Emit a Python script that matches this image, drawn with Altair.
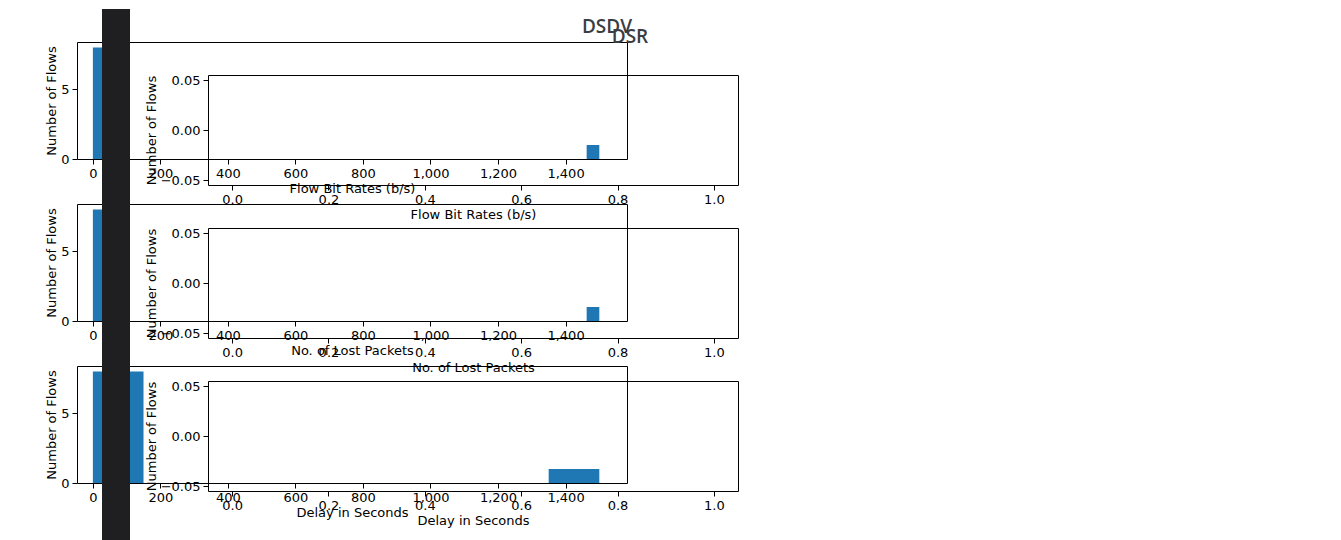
import pandas as pd
import altair as alt

# histogram bins (DSDV); DSR panels are empty
rate_lo = [0, 1462.5]
rate_hi = [37.5, 1500]
rate_n = [8, 1]
lost_lo = [0, 1462.5]
lost_hi = [37.5, 1500]
lost_n = [8, 1]
delay_lo = [0, 1350]
delay_hi = [150, 1500]
delay_n = [8, 1]

x_ticks = [0, 200, 400, 600, 800, 1000, 1200, 1400]
unit_ticks = [0.0, 0.2, 0.4, 0.6, 0.8, 1.0]
zero_ticks = [-0.05, 0.0, 0.05]

FONT = "DejaVu Sans"
BLUE = "#1f77b4"
DARK = "#1f1f21"


def axis(title, values, fmt=None):
    kw = dict(title=title, values=values, grid=False, domain=False, tickColor="black",
              labelColor="black", titleColor="black", labelFont=FONT, titleFont=FONT,
              labelFontSize=13, titleFontSize=13, titleFontWeight="normal", tickSize=5,
              labelPadding=3)
    if fmt:
        kw["format"] = fmt
    return alt.Axis(**kw)


def dsdv_panel(lo, hi, n, xtitle):
    df = pd.DataFrame({"lo": lo, "hi": hi, "n": n})
    return alt.Chart(df).mark_rect(color=BLUE).encode(
        x=alt.X("lo:Q", scale=alt.Scale(domain=[-47, 1582], nice=False, zero=False),
                axis=axis(xtitle, x_ticks)),
        x2="hi:Q",
        y=alt.Y("n:Q", scale=alt.Scale(domain=[0, 8.4], nice=False),
                axis=axis("Number of Flows", [0, 5])),
        y2=alt.datum(0),
    ).properties(width=550, height=117)


def dsr_panel(xtitle):
    df = pd.DataFrame({"x": [0.0], "y": [0.0]})
    return alt.Chart(df).mark_point(opacity=0).encode(
        x=alt.X("x:Q", scale=alt.Scale(domain=[-0.05, 1.05], nice=False, zero=False),
                axis=axis(xtitle, unit_ticks, ".1f")),
        y=alt.Y("y:Q", scale=alt.Scale(domain=[-0.055, 0.055], nice=False, zero=False),
                axis=axis("Number of Flows", zero_ticks, ".2f")),
    ).properties(width=530, height=110)


def label(text, w, h, x, y):
    return alt.Chart(alt.Data(values=[{}])).mark_text(
        text=text, font="Open Sans", fontSize=19, fontWeight=600, color="#3a3d42",
        align="center", baseline="middle"
    ).encode(x=alt.value(x), y=alt.value(y)).properties(
        width=w, height=h, view=alt.ViewConfig(stroke="transparent"))


left = alt.vconcat(
    label("DSDV", 550, 25, 530, 10),
    alt.vconcat(
        dsdv_panel(rate_lo, rate_hi, rate_n, "Flow Bit Rates (b/s)"),
        dsdv_panel(lost_lo, lost_hi, lost_n, "No. of Lost Packets"),
        dsdv_panel(delay_lo, delay_hi, delay_n, "Delay in Seconds"),
        spacing=45, bounds="flush"),
    spacing=0, bounds="flush")

strip = alt.Chart(alt.Data(values=[{}])).mark_rect(color=DARK).encode(
    x=alt.value(25), x2=alt.value(53), y=alt.value(-8), y2=alt.value(540)
).properties(width=131, height=400, view=alt.ViewConfig(stroke="transparent"))

right = alt.vconcat(
    label("DSR", 530, 58, 422, 20),
    alt.vconcat(
        dsr_panel("Flow Bit Rates (b/s)"),
        dsr_panel("No. of Lost Packets"),
        dsr_panel("Delay in Seconds"),
        spacing=43, bounds="flush"),
    spacing=0, bounds="flush")

chart = alt.hconcat(left, strip, right, spacing=0, bounds="flush").properties(
    padding={"left": 37, "top": 0, "right": 0, "bottom": 0},
).configure_view(stroke="black", strokeWidth=1).configure_axis(titlePadding=2)

chart.save("out.html", embed_options={"renderer": "svg", "actions": False})
